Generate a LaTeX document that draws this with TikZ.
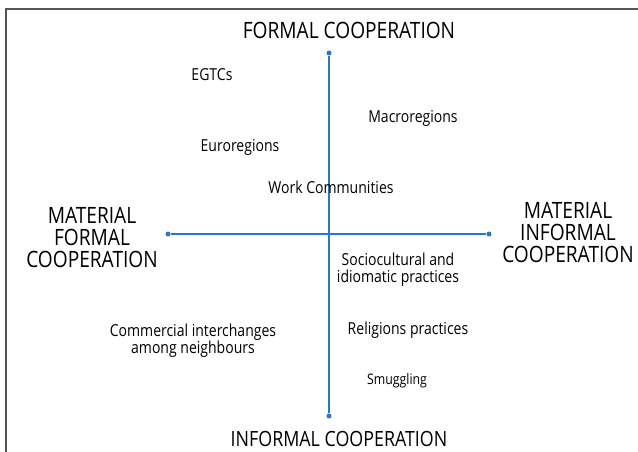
\documentclass[tikz,border=0pt]{standalone}
\usepackage{fontspec}
\setmainfont{Open Sans}[FakeStretch=0.85]
\definecolor{axisblue}{RGB}{36,122,200}
\definecolor{framegray}{RGB}{85,85,85}
\tikzset{
  axisend/.style={circle, fill=axisblue, inner sep=0pt, minimum size=5pt},
  pole/.style={align=center, font=\fontsize{22.5}{22}\selectfont, inner sep=0pt},
  entry/.style={align=center, font=\fontsize{16.5}{17}\selectfont, inner sep=0pt}
}
\begin{document}
\begin{tikzpicture}[x=1pt, y=-1pt]
  \useasboundingbox[fill=white] (0,0) rectangle (638,452);
  \draw[framegray, line width=1.4pt] (6,452) -- (6,9) -- (638,9);

  \node[axisend] (top) at (329,53) {};
  \node[axisend] (bottom) at (329,416) {};
  \node[axisend] (left) at (168,234) {};
  \node[axisend] (right) at (489,234) {};
  \draw[axisblue, line width=1.8pt] (top) -- (bottom);
  \draw[axisblue, line width=1.8pt] (left) -- (right);

  \node[pole] (formal) at (349,30) {FORMAL COOPERATION};
  \node[pole, font=\fontsize{21}{22}\selectfont] (informal) at (339,439) {INFORMAL COOPERATION};
  \node[pole] (matformal) at (92,238) {MATERIAL\\FORMAL\\COOPERATION};
  \node[pole] (matinformal) at (568,233) {MATERIAL\\INFORMAL\\COOPERATION};

  \node[entry] (egtc) at (212,75) {EGTCs};
  \node[entry] (macro) at (413,118) {Macroregions};
  \node[entry] (euro) at (240,147) {Euroregions};
  \node[entry] (work) at (331,187) {Work Communities};
  \node[entry] (socio) at (398,270) {Sociocultural and\\idiomatic practices};
  \node[entry] (commerce) at (193,341) {Commercial interchanges\\among neighbours};
  \node[entry] (relig) at (408,330) {Religions practices};
  \node[entry, font=\fontsize{14.5}{17}\selectfont] (smuggle) at (397,381) {Smuggling};
\end{tikzpicture}
\end{document}
